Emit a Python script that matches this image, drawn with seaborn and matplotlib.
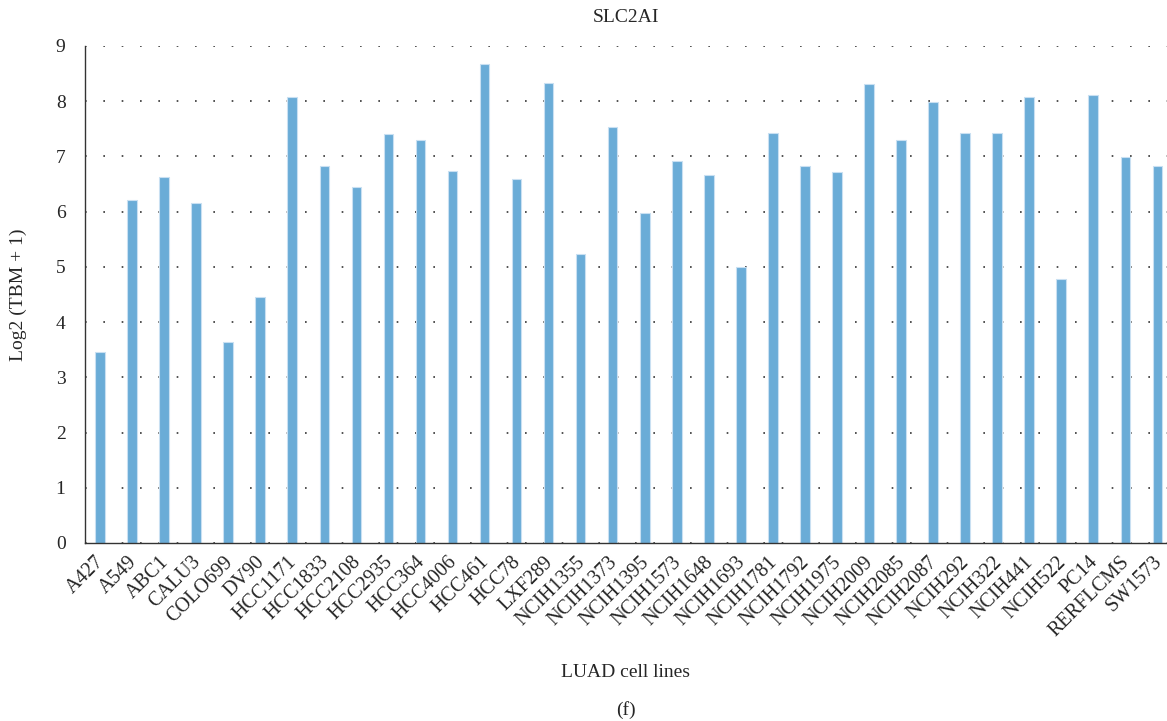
import pandas as pd
import matplotlib
matplotlib.use("Agg")
import matplotlib.pyplot as plt
import matplotlib.transforms as mtransforms
import seaborn as sns

# cell lines and expression values
cell_lines = ["A427", "A549", "ABC1", "CALU3", "COLO699", "DV90", "HCC1171", "HCC1833",
              "HCC2108", "HCC2935", "HCC364", "HCC4006", "HCC461", "HCC78", "LXF289",
              "NCIH1355", "NCIH1373", "NCIH1395", "NCIH1573", "NCIH1648", "NCIH1693",
              "NCIH1781", "NCIH1792", "NCIH1975", "NCIH2009", "NCIH2085", "NCIH2087",
              "NCIH292", "NCIH322", "NCIH441", "NCIH522", "PC14", "RERFLCMS", "SW1573"]
log2_tbm = [3.46, 6.21, 6.62, 6.16, 3.64, 4.46, 8.08, 6.83,
            6.44, 7.41, 7.30, 6.74, 8.68, 6.59, 8.33,
            5.23, 7.54, 5.97, 6.91, 6.67, 5.00,
            7.43, 6.82, 6.71, 8.31, 7.29, 7.98,
            7.42, 7.42, 8.08, 4.78, 8.11, 6.99, 6.83]
y_ticks = [0, 1, 2, 3, 4, 5, 6, 7, 8, 9]

df = pd.DataFrame({"cell": cell_lines, "value": log2_tbm})

sns.set_style("white")
plt.rcParams["font.family"] = ["Liberation Serif", "DejaVu Serif"]

fig = plt.figure(figsize=(11.67, 7.21), dpi=100)
ax = fig.add_axes([0.0728, 0.2469, 0.9272, 0.6893])

sns.barplot(data=df, x="cell", y="value", color="#6aacd7", width=0.3,
            edgecolor="#c9e0f2", linewidth=0.8, saturation=1, ax=ax)

ax.set_ylim(0, 9)
ax.set_xlim(-0.47, 33.3)
ax.set_yticks(y_ticks)
ax.yaxis.grid(True, linestyle=(0, (1, 10)), color="#333333", linewidth=1.2)
ax.set_axisbelow(True)

for side in ["top", "right"]:
    ax.spines[side].set_visible(False)
for side in ["left", "bottom"]:
    ax.spines[side].set_color("#333333")
    ax.spines[side].set_linewidth(1.0)

ax.tick_params(axis="y", direction="out", length=8, width=1.5, color="black",
               labelsize=14, pad=6)
ax.tick_params(axis="x", length=0, labelsize=14.5, pad=7)
# nudge the rotated labels a little to the left
shift = mtransforms.ScaledTranslation(-5 / 100, 0, fig.dpi_scale_trans)
for lbl in ax.get_xticklabels():
    lbl.set_rotation(45)
    lbl.set_ha("right")
    lbl.set_va("top")
    lbl.set_rotation_mode("anchor")
    lbl.set_transform(lbl.get_transform() + shift)

ax.set_title("SLC2AI", fontsize=14, pad=17)
ax.set_ylabel("Log2 (TBM + 1)", fontsize=14)
ax.yaxis.set_label_coords(-0.054, 0.5)
ax.set_xlabel("LUAD cell lines", fontsize=14)
ax.xaxis.set_label_coords(0.5, -0.26)
ax.xaxis.label.set_va("center")

fig.text(0.536, 0.015, "(f)", ha="center", va="center", fontsize=14)

fig.savefig("out.png", dpi=100)
